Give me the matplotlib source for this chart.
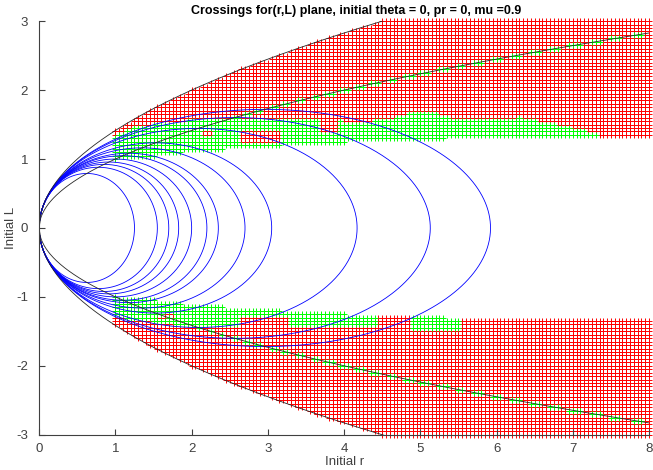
import numpy as np
import matplotlib.pyplot as plt
from matplotlib.path import Path

plt.rcParams['axes.unicode_minus'] = False

# grid of initial conditions (r, L)
r_grid = np.round(np.arange(1.0, 8.0001, 0.05), 2)
L_grid = np.round(np.arange(-3.0, 3.0001, 0.05), 2)

edge_r = [1.0, 1.5, 2.0, 3.0, 4.0, 5.0, 6.0, 8.0]
edge_L = [1.0, 1.05, 1.12, 1.19, 1.25, 1.29, 1.32, 1.34]

# regions of crossing orbits (green)
green_up = [(0.95, 0.9), (0.95, 1.3), (1.3, 1.48), (2.0, 1.56), (2.5, 1.58),
            (3.6, 1.58), (4.2, 1.53), (4.6, 1.58), (4.95, 1.68), (5.2, 1.66),
            (5.5, 1.57), (6.0, 1.56), (6.3, 1.6), (6.8, 1.5), (7.4, 1.33),
            (7.4, 1.1)]
red_up = [[(2.6, 1.22), (2.6, 1.43), (3.2, 1.43), (3.2, 1.22)],
          [(2.1, 1.33), (2.1, 1.43), (2.3, 1.43), (2.3, 1.33)],
          [(3.65, 1.39), (3.65, 1.58), (3.95, 1.58), (3.95, 1.39)]]
green_lo = [[(0.95, -0.9), (0.95, -1.28), (1.5, -1.35), (2.1, -1.45), (2.6, -1.45),
             (2.65, -1.28), (3.4, -1.27), (3.4, -0.9)],
            [(3.3, -1.1), (3.3, -1.42), (4.4, -1.42), (4.4, -1.1)],
            [(4.9, -1.1), (4.9, -1.48), (5.5, -1.48), (5.5, -1.1)]]
red_lo = [[(1.55, -1.24), (1.55, -1.33), (1.75, -1.33), (1.75, -1.24)]]

# energy level curves: largest r reached on each
r_max = [1.25, 1.55, 1.7, 1.83, 2.0, 2.2, 2.35, 2.7, 3.05, 4.17, 5.13, 5.92]

R, Lg = np.meshgrid(r_grid, L_grid)
R = R.ravel()
Lg = Lg.ravel()
low = np.interp(R, edge_r, edge_L)
keep = (Lg**2 <= 2*R + 1e-9) & (np.abs(Lg) >= low - 1e-9)
R = R[keep]
Lg = Lg[keep]
pts = np.column_stack([R, Lg])

def inside(polys):
    m = np.zeros(len(pts), bool)
    for p in polys:
        m |= Path(p).contains_points(pts)
    return m

green = inside([green_up] + green_lo) & ~inside(red_up + red_lo)
green |= np.abs(np.abs(Lg) - np.sqrt(R)) < 0.015

fig = plt.figure(figsize=(6.53, 4.70), dpi=100, facecolor='white')
ax = fig.add_axes([0.06, 0.075, 0.934, 0.88])

ax.scatter(R[~green], Lg[~green], s=20, marker='+', c='#ff0000', linewidths=0.7, clip_on=False)
ax.scatter(R[green], Lg[green], s=20, marker='+', c='#00ff00', linewidths=0.7, clip_on=False)

t = np.linspace(0, 2*np.pi, 400)
for rm in r_max:
    ax.plot(rm/2*(1 - np.cos(t)), np.sqrt(rm/2)*np.sin(t), color='b', lw=0.6)

rr = np.linspace(0, 8, 600)
for s in (1, -1):
    ax.plot(rr, s*np.sqrt(rr), color='0.15', lw=0.6)
    ax.plot(rr, s*np.sqrt(2*rr), color='0.15', lw=0.6)

ax.set_xlim(0, 8)
ax.set_ylim(-3, 3)
ax.set_xticks(range(0, 9))
ax.set_yticks(range(-3, 4))
for sp in ['top', 'right']:
    ax.spines[sp].set_visible(False)
for sp in ['left', 'bottom']:
    ax.spines[sp].set_color('0.25')
ax.tick_params(direction='in', length=4, colors='0.25', labelsize=9.5)
ax.tick_params(axis='x', pad=6)
ax.tick_params(axis='y', pad=8)
for lab in ax.get_xticklabels() + ax.get_yticklabels():
    lab.set_family('Liberation Sans')
ax.set_xlabel('Initial r', family='Liberation Sans', fontsize=9.5, color='0.25', labelpad=1)
ax.set_ylabel('Initial L', family='Liberation Sans', fontsize=9.5, color='0.25')
ax.yaxis.set_label_coords(-0.036, 0.5)
ax.set_title('Crossings for(r,L) plane, initial theta = 0, pr = 0, mu =0.9',
             family='Liberation Sans', fontsize=9, fontweight='bold', pad=5, x=0.519)

fig.savefig('out.png', dpi=100, facecolor='white')
